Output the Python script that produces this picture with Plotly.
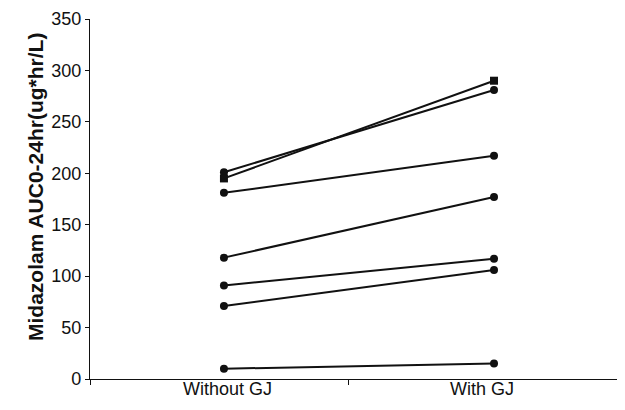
import plotly.graph_objects as go

categories = ["Without GJ", "With GJ"]
without_gj = [201, 195, 181, 118, 91, 71, 10]
with_gj = [281, 290, 217, 177, 117, 106, 15]
marker_symbols = ["circle", "square", "circle", "circle", "circle", "circle", "circle"]
y_ticks = [0, 50, 100, 150, 200, 250, 300, 350]

fig = go.Figure()
for a, b, sym in zip(without_gj, with_gj, marker_symbols):
    fig.add_trace(go.Scatter(
        x=[0, 1], y=[a, b], mode="lines+markers",
        line=dict(color="#111111", width=2),
        marker=dict(color="#111111", size=8, symbol=sym),
        showlegend=False, hoverinfo="skip"))

font = "Liberation Sans, Arial, sans-serif"
# page body has an 8px margin; figure sized so it fits the window without scrollbars
fig.update_layout(
    width=617, height=402,
    margin=dict(l=82, r=0, t=11, b=31),
    paper_bgcolor="white", plot_bgcolor="white",
    font=dict(family=font, color="#111111", size=18),
    xaxis=dict(range=[-0.496, 1.485], showgrid=False, zeroline=False,
               showline=True, linecolor="#111111", linewidth=1.2,
               tickmode="array", tickvals=[-0.496, 0.46], ticktext=["", ""],
               ticks="outside", ticklen=5, tickcolor="#111111"),
    yaxis=dict(range=[0, 350], showgrid=False, zeroline=False,
               showline=True, linecolor="#111111", linewidth=1.2,
               tickmode="array", tickvals=y_ticks,
               ticks="outside", ticklen=4, tickcolor="#111111",
               tickfont=dict(size=18)),
)
for i, c in enumerate(categories):
    fig.add_annotation(x=[0.013, 0.956][i], y=0, xref="x", yref="paper",
                       yshift=-22, text=c, showarrow=False,
                       font=dict(size=18, family=font, color="#111111"))
fig.add_annotation(xref="x domain", x=(22-90)/535, yref="y domain", y=(379-187.5)/360,
                   text="<b>Midazolam AUC0-24hr(ug*hr/L)</b>",
                   showarrow=False, textangle=-90,
                   font=dict(size=21, family=font, color="#111111"))
fig.write_html("out.html")
